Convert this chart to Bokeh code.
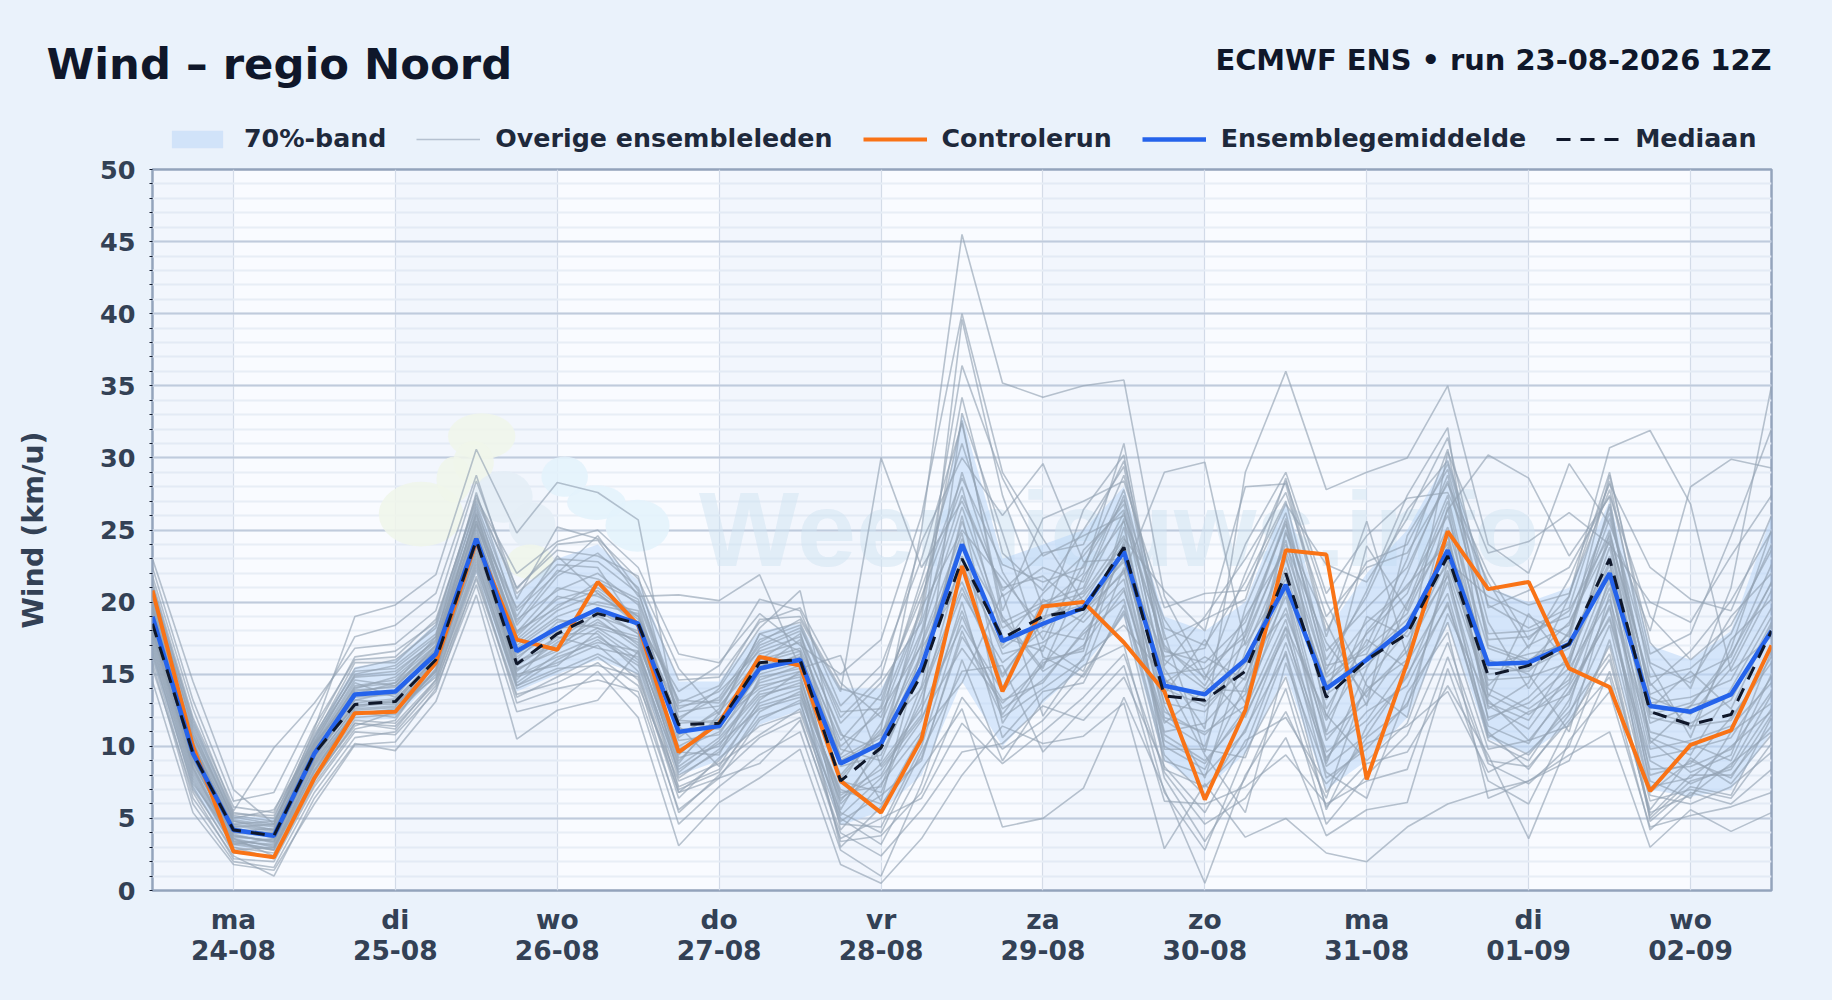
from bokeh.plotting import figure
from bokeh.embed import file_html
from bokeh.resources import INLINE
from bokeh.io import curdoc
from bokeh.layouts import column
from bokeh.core.properties import value
from bokeh.models import (Range1d, FixedTicker, SingleIntervalTicker, Legend, LegendItem,
                          BoxAnnotation, CustomJS, LinearAxis)

STEP_H = 6
title_text = "Wind – regio Noord"
subtitle_text = "ECMWF ENS • run 23-08-2026 12Z"
day_ticks = [12, 36, 60, 84, 108, 132, 156, 180, 204, 228]
day_names = ["ma", "di", "wo", "do", "vr", "za", "zo", "ma", "di", "wo"]
day_dates = ["24-08", "25-08", "26-08", "27-08", "28-08", "29-08", "30-08", "31-08", "01-09", "02-09"]

mean = [19.0,9.5,4.2,3.8,9.5,13.6,13.8,16.4,24.4,16.6,
        18.2,19.5,18.5,11.0,11.4,15.4,16.0,8.8,10.2,15.5,
        24.0,17.3,18.5,19.6,23.5,14.2,13.6,16.0,21.2,14.0,
        16.0,18.3,23.6,15.7,15.8,17.1,22.0,12.8,12.4,13.6,18.0]
control = [20.8,10.0,2.7,2.3,7.8,12.3,12.4,15.8,24.2,17.4,
           16.7,21.4,18.4,9.6,11.6,16.2,15.6,7.6,5.4,10.5,
           22.5,13.8,19.7,20.0,17.2,13.8,6.3,12.5,23.6,23.3,
           7.7,15.8,24.9,20.9,21.4,15.4,14.1,6.9,10.1,11.1,17.0]
median = [18.5,9.5,4.2,3.8,9.5,12.9,13.1,16.0,24.3,15.7,
          17.8,19.2,18.5,11.5,11.6,15.8,16.0,7.6,9.9,15.0,
          23.0,17.5,19.0,19.5,23.8,13.5,13.2,15.2,22.0,13.4,
          16.0,17.8,23.2,14.9,15.6,17.1,23.0,12.4,11.5,12.2,18.0]
p15 = [16.0,7.0,3.0,2.8,8.0,11.8,11.9,14.8,22.0,13.8,
       15.0,16.0,15.0,8.0,9.0,11.5,12.5,4.5,5.5,8.0,
       14.5,10.0,13.0,15.5,19.0,9.0,7.0,9.5,15.0,7.0,
       9.0,12.0,18.5,10.5,9.5,11.5,17.0,7.0,6.5,7.0,11.0]
p85 = [21.0,12.0,5.2,5.0,10.8,15.5,16.0,18.5,27.0,20.5,
       23.0,24.0,21.5,14.5,14.5,18.0,18.5,14.0,14.0,19.0,
       33.0,23.0,24.0,25.0,28.0,19.0,18.0,20.0,27.0,18.0,
       22.0,25.0,30.0,21.0,20.0,21.0,27.0,17.0,16.0,18.0,26.0]

members = [
 [18.5,9.2,4.4,3.6,9.1,13.0,13.3,16.0,24.1,15.9, 17.0,18.6,17.2,9.8,11.0,14.4,15.2,8.0,11.2,25.0, 45.5,35.2,34.2,35.0,35.4,20.4,15.0,12.0,18.3,12.2, 9.0,11.6,19.2,13.2,10.4,13.8,19.0,9.0,7.4,8.6,13.6],
 [23.0,14.5,7.0,4.6,11.2,19.0,19.8,21.9,30.6,24.8, 28.3,27.6,25.7,11.4,8.6,13.2,15.2,9.4,12.8,21.6, 31.0,22.1,17.4,22.6,27.1,17.8,9.6,19.6,26.2,15.3, 20.8,27.4,32.1,13.4,19.2,15.6,24.8,14.2,16.6,20.1,24.9],
 [21.8,12.6,5.5,9.9,13.0,16.8,17.1,19.4,28.4,20.9, 24.0,24.3,20.4,20.5,20.1,21.9,15.4,16.3,8.6,12.2, 33.1,24.8,16.2,14.8,19.4,11.6,13.9,17.2,24.3,13.2, 23.9,19.4,26.4,30.2,28.6,23.2,27.3,10.2,12.8,16.4,21.3],
 [16.2,6.4,2.4,1.0,6.4,10.2,9.7,13.1,20.5,10.5, 12.5,13.2,16.6,8.8,12.3,17.8,16.6,4.2,7.4,11.0, 14.4,20.6,12.1,16.2,18.4,14.8,9.4,5.4,15.8,8.2, 6.4,13.7,17.9,6.4,7.6,9.0,15.2,5.6,9.2,7.4,10.8],
 [14.5,5.4,1.8,1.4,6.0,10.1,10.3,14.0,21.2,12.4, 13.1,15.2,12.0,3.1,6.1,7.8,9.8,1.8,0.5,3.6, 8.0,11.4,10.2,10.7,13.0,2.9,7.4,3.7,5.0,2.6, 2.0,4.4,6.0,6.9,7.6,9.4,11.0,3.0,5.6,4.1,5.4],
 [17.6,8.2,3.4,3.2,8.6,12.0,12.2,15.0,23.0,14.2, 16.0,17.4,15.6,7.2,8.4,12.0,13.0,5.0,3.2,8.4, 12.6,4.4,5.0,7.1,13.4,7.0,0.5,8.0,12.4,6.4, 14.6,18.0,24.2,16.0,15.0,11.0,20.6,4.8,7.2,6.6,12.0],
 [20.0,10.8,5.0,5.6,10.2,15.0,15.6,17.8,26.0,17.8, 20.2,21.0,19.0,13.2,13.0,17.2,18.8,13.8,30.0,22.4, 27.0,21.0,21.8,19.4,22.0,29.0,29.7,17.0,21.6,11.0, 18.0,21.2,24.0,12.6,14.4,20.4,30.7,31.9,26.8,15.2,17.6],
 [19.4,10.2,4.8,4.4,9.8,14.2,14.6,17.0,25.4,19.6, 22.6,22.4,18.2,12.6,13.8,16.6,17.6,11.0,6.2,16.8, 21.4,15.0,18.6,26.4,30.2,15.4,11.2,29.0,36.0,27.8, 29.0,30.0,35.0,24.0,22.0,29.6,25.4,18.0,28.0,29.9,29.3],
 [20.6,11.4,5.2,4.8,10.4,15.4,16.0,18.2,26.6,18.4, 21.8,23.4,21.0,14.6,14.8,18.6,19.6,14.4,12.0,19.4, 36.4,28.6,23.2,24.6,26.0,18.8,14.6,22.0,28.4,20.0, 14.2,12.0,22.8,20.4,19.0,17.6,28.8,17.2,14.0,21.0,35.0],
 [15.4,6.8,2.2,2.0,7.2,11.0,10.8,13.8,21.8,13.6, 14.4,15.8,13.4,4.6,7.2,9.4,11.0,2.8,1.0,7.4, 16.0,9.0,13.2,15.6,17.0,6.8,2.8,9.6,14.8,5.8, 8.8,9.6,14.2,9.4,3.6,10.4,13.8,4.4,5.2,5.8,6.8],
 [17.0,7.6,3.0,2.6,8.0,11.8,11.6,14.6,22.6,14.0, 15.2,16.4,15.0,6.4,9.2,11.4,12.4,4.6,4.4,10.0, 19.0,12.6,14.6,17.8,20.2,9.4,6.6,11.2,16.4,5.6, 11.4,14.8,21.4,11.0,8.4,12.2,18.4,6.6,6.0,7.2,9.6],
 [18.0,8.8,3.8,3.4,9.0,12.6,12.8,15.6,24.0,15.2, 17.2,18.8,16.8,8.6,10.6,13.8,14.6,6.4,8.0,13.0, 23.2,16.4,17.2,19.2,23.0,12.4,10.8,13.6,19.6,10.8, 13.0,17.0,23.0,14.0,12.6,14.6,21.4,9.2,9.8,10.6,14.8],
 [19.2,9.8,4.6,4.2,9.6,13.8,14.2,16.6,25.0,17.0, 19.0,20.0,19.4,11.6,11.8,15.6,16.2,8.6,9.4,15.2, 25.6,18.2,19.8,20.6,24.6,14.0,12.8,15.4,22.4,14.4, 16.8,19.2,25.2,15.6,16.4,17.0,23.2,12.4,11.6,13.2,18.6],
 [20.4,10.4,4.0,4.0,10.0,14.4,13.4,16.8,26.4,18.8, 20.8,22.0,19.8,10.6,12.6,16.8,18.0,7.4,11.6,18.0, 29.0,20.4,22.4,21.4,27.8,16.6,15.8,18.6,25.4,16.6, 19.6,22.4,28.4,17.8,18.0,19.0,26.2,13.6,14.8,16.2,22.6],
 [16.6,7.0,2.8,3.0,7.8,11.4,12.4,15.2,23.4,14.8, 15.8,17.0,14.6,5.4,8.0,10.6,12.0,3.6,5.0,6.4, 11.6,8.8,11.0,13.4,16.4,8.2,4.6,6.4,10.6,3.8, 5.6,6.1,15.4,7.6,6.0,11.6,14.8,4.2,6.8,6.0,8.4],
 [21.0,11.8,5.4,5.0,11.0,16.2,16.6,18.6,27.2,22.0, 24.2,25.0,22.4,16.4,15.8,19.2,17.0,15.0,17.4,26.0, 40.0,29.0,24.4,20.0,24.4,20.8,18.0,28.0,28.2,17.6, 25.6,16.2,30.4,23.4,24.2,26.2,24.0,20.0,18.6,23.2,27.4],
 [18.8,9.0,3.6,3.0,8.8,12.4,12.0,15.4,23.8,15.4, 16.6,19.4,17.8,8.0,9.6,13.0,14.0,6.8,7.2,14.2, 26.0,14.0,20.2,18.6,21.6,10.0,8.4,14.2,20.4,8.8, 15.4,20.0,24.6,12.8,11.2,15.0,22.2,8.0,8.8,12.0,15.8],
 [17.4,8.0,3.2,3.6,9.2,13.2,13.0,16.2,24.6,16.4, 18.2,18.4,17.6,9.2,10.0,14.6,15.6,5.6,10.4,17.2, 24.8,11.6,15.8,16.8,25.2,12.8,7.8,16.6,23.2,12.6, 17.4,15.4,26.6,11.8,13.4,16.2,24.4,10.4,8.2,9.4,16.6],
 [22.4,13.2,6.2,6.8,12.4,17.6,18.4,20.6,28.8,20.2, 25.2,24.4,21.6,15.4,12.2,17.8,18.6,12.0,14.8,24.2, 30.0,26.0,29.6,22.8,23.0,16.2,16.8,24.0,29.0,20.6, 24.6,27.2,27.6,21.4,16.8,21.6,28.2,22.4,20.2,19.4,26.0],
 [15.8,6.0,2.0,1.6,6.8,10.6,11.0,14.2,22.2,13.0, 14.0,14.6,13.8,5.6,7.8,8.8,11.8,4.0,2.4,5.6, 9.6,10.2,12.8,11.8,14.8,8.6,5.4,10.4,12.0,7.4, 10.2,11.4,13.8,8.2,9.6,12.4,16.4,5.2,8.0,8.0,11.4],
 [19.8,10.0,4.4,4.6,10.6,14.8,15.0,17.4,25.8,18.0, 19.6,21.4,20.0,12.4,12.8,16.0,16.8,10.4,13.6,20.4, 28.0,17.6,16.6,23.6,26.4,13.6,17.4,13.0,24.8,18.6, 12.8,24.6,29.2,18.6,14.0,18.0,25.8,15.6,10.6,17.4,20.2],
 [18.2,8.6,3.4,2.8,8.4,12.2,12.6,14.8,22.8,14.6, 17.8,17.8,15.2,6.8,9.0,12.8,13.6,7.0,6.0,9.2, 17.6,13.2,14.4,18.0,21.0,10.8,9.0,12.2,17.8,9.6, 11.8,15.8,20.6,10.4,9.0,13.2,19.8,7.6,6.4,11.0,13.0],
 [20.8,11.2,4.8,4.2,10.2,13.6,14.4,17.6,27.6,19.0, 23.2,20.6,18.6,13.8,15.6,20.2,19.4,12.8,15.6,23.0, 32.4,19.4,25.8,27.0,28.4,19.6,20.6,20.8,26.8,22.6, 21.4,25.8,31.4,19.6,20.8,22.4,27.4,19.0,16.0,18.4,23.6],
 [16.8,7.4,3.6,2.4,7.6,11.6,11.4,14.4,21.6,13.4, 14.8,16.2,14.2,7.6,8.8,10.8,12.6,5.4,4.0,9.6, 15.2,15.6,9.6,12.6,15.6,6.2,6.0,7.2,9.4,6.0, 7.6,8.4,16.2,8.8,7.4,10.0,17.4,6.2,7.0,6.4,10.2],
 [19.6,9.6,3.8,3.4,9.4,13.4,13.6,16.4,24.8,16.0, 18.6,19.0,18.0,10.0,11.4,15.0,15.8,9.8,9.0,15.8, 22.6,16.8,18.8,20.4,24.0,14.6,13.0,16.0,22.0,13.6, 15.6,18.4,23.8,15.0,15.4,16.8,22.8,11.6,12.8,13.6,17.8],
 [21.4,12.0,5.8,5.4,11.4,16.0,16.2,18.8,27.0,21.0, 23.6,23.2,21.8,11.8,14.0,18.2,20.8,9.0,10.6,19.0, 34.2,23.4,20.8,25.0,29.4,15.6,19.0,23.0,27.6,19.0, 22.4,23.4,28.2,22.0,17.4,20.4,29.0,16.4,17.8,24.6,32.0],
 [18.4,9.4,4.2,4.0,9.8,13.2,13.8,16.6,25.2,16.8, 18.8,18.2,16.4,9.4,12.0,14.2,14.8,6.0,8.8,12.6, 18.4,13.8,17.0,15.2,22.4,11.0,11.6,14.8,21.0,10.4, 13.8,16.6,22.2,13.6,12.2,14.4,21.0,11.0,10.2,9.0,15.0],
 [20.2,10.6,4.6,4.8,10.0,14.0,14.8,17.2,26.2,17.4, 19.8,20.8,18.8,11.0,11.6,16.4,17.2,10.0,12.4,17.0, 23.8,19.0,15.4,21.8,25.6,17.0,14.2,19.0,23.6,15.0, 18.6,21.0,26.0,16.8,15.8,18.6,24.2,13.0,13.4,14.6,19.6],
 [17.2,7.8,3.0,2.2,7.4,11.2,11.8,15.8,23.2,14.4, 16.4,17.6,15.8,7.8,9.8,13.4,14.4,3.0,5.8,10.8, 20.0,10.6,13.8,14.4,19.8,9.0,8.0,11.0,18.2,7.8, 9.8,13.0,18.6,9.8,10.4,11.4,17.0,5.0,7.6,8.4,12.6],
 [19.0,9.4,4.0,3.8,9.4,12.8,13.2,16.2,24.4,15.6, 17.4,19.2,17.0,10.4,10.8,15.2,16.4,7.8,11.0,14.0, 21.0,14.8,19.0,19.8,22.8,13.0,12.4,15.8,19.2,11.8, 16.2,18.8,22.6,14.6,14.8,15.8,23.8,12.0,11.4,11.8,16.2],
 [19.3,9.9,4.3,3.9,9.7,13.9,14.1,16.9,25.6,17.2, 19.4,20.6,18.4,11.2,11.2,15.8,16.6,9.2,10.8,16.4, 39.6,27.4,19.6,22.0,31.0,16.0,14.0,13.8,25.0,14.8, 17.0,23.0,30.6,17.0,16.0,17.4,26.8,13.4,12.2,15.4,20.8],
 [17.8,8.4,3.2,2.8,8.2,12.4,12.4,15.2,23.6,15.0, 15.6,18.0,16.0,8.4,10.2,12.6,13.4,6.2,9.8,20.0, 32.6,18.8,15.2,17.0,20.8,11.8,10.0,17.8,25.6,12.0, 19.0,17.6,21.8,12.0,13.0,15.4,20.2,10.6,9.4,14.0,19.0],
 [18.6,9.1,3.9,3.3,8.9,12.7,13.1,15.9,24.2,15.3, 16.8,18.2,17.4,9.0,11.8,14.0,15.0,5.2,7.8,11.8, 19.4,12.2,16.0,16.6,25.8,8.4,7.2,10.0,17.2,9.2, 12.4,14.2,20.0,10.8,9.4,12.8,21.8,7.2,7.8,10.0,12.4],
 [20.9,11.0,5.1,4.6,10.8,15.2,15.4,17.6,26.8,19.4, 22.0,24.6,20.8,12.0,13.4,17.4,18.4,11.6,14.4,18.6, 27.4,20.8,23.4,24.0,29.8,17.4,18.8,20.2,28.6,18.0, 22.8,24.0,29.6,19.8,18.2,19.6,28.4,14.8,15.4,17.8,24.0],
 [16.4,7.2,2.6,2.4,7.8,11.6,11.2,14.6,22.4,14.2, 15.4,15.6,14.8,6.8,7.8,11.8,13.2,3.4,3.8,6.8, 13.4,9.8,11.8,15.0,19.2,7.8,3.4,7.8,14.0,4.6, 8.0,10.8,17.2,9.0,8.6,11.8,16.0,5.4,6.6,8.8,11.0],
 [19.5,10.1,4.5,4.1,9.9,14.1,14.4,16.7,25.6,17.6, 20.4,19.8,19.2,10.8,12.4,15.4,17.4,9.0,10.0,16.2, 24.4,17.0,20.6,23.2,26.8,15.0,15.4,17.6,24.0,17.2, 13.4,19.8,27.0,14.2,17.0,18.4,25.0,12.6,15.2,12.6,18.4],
 [18.1,8.9,3.7,3.5,9.3,12.9,12.9,15.7,24.3,16.2, 18.0,19.6,17.8,9.6,9.4,14.8,15.4,7.6,6.8,13.6, 20.6,15.8,18.0,17.4,23.6,12.0,11.0,12.8,20.8,9.0, 14.0,16.0,24.8,13.0,11.8,16.0,22.6,9.8,10.4,11.4,14.4],
 [21.2,11.6,5.3,5.2,10.6,15.8,15.8,18.4,27.4,20.6, 23.0,22.8,20.6,13.0,14.2,18.8,19.0,14.0,13.2,21.0, 28.6,22.6,21.4,22.4,28.8,18.2,17.0,21.4,27.0,16.0, 20.4,26.4,29.8,21.0,19.8,20.6,27.8,15.8,14.4,19.0,22.0],
 [17.9,8.5,3.3,2.9,8.7,12.3,12.5,15.3,23.9,15.8, 17.6,16.8,16.2,8.2,10.4,13.6,14.2,6.6,8.4,12.0, 16.8,13.0,15.6,19.0,22.2,10.4,8.8,12.6,18.8,8.6, 10.8,15.0,19.8,11.4,10.2,14.2,18.8,8.4,8.6,9.8,13.8],
 [19.7,10.3,4.1,4.3,10.1,14.6,14.2,17.0,25.4,17.9, 21.0,20.4,19.0,11.8,11.6,16.0,17.8,10.8,9.8,17.8, 26.6,18.6,20.0,21.0,27.4,14.4,16.2,14.6,23.0,14.2, 17.8,20.6,27.4,15.4,15.2,17.8,26.6,12.2,13.0,15.8,21.4],
 [18.3,9.3,3.5,3.1,8.3,12.5,12.7,16.0,24.5,14.9, 16.2,17.2,16.6,7.0,8.2,12.4,13.8,4.8,6.6,9.0, 18.0,12.0,14.0,16.0,24.2,9.8,9.8,9.2,16.6,6.8, 10.6,12.8,22.0,10.6,12.4,13.6,19.6,6.8,9.0,7.8,12.2],
 [20.1,10.7,4.9,4.5,10.3,14.9,15.2,17.3,26.1,18.6, 22.2,21.6,20.2,12.8,13.2,17.0,18.2,12.4,12.6,19.6, 25.0,21.6,18.2,20.8,26.2,16.8,14.8,18.0,25.8,15.6, 16.4,22.0,28.8,17.4,17.6,19.4,24.6,14.4,11.2,16.8,25.0],
]

hours = [i * STEP_H for i in range(len(mean))]

# watermark blobs (hours, km/u, width, height, colour)
logo_x = [48.8, 47.6, 39.8, 44.7, 52.0, 56.3, 61.1, 65.8, 71.9, 56.0]
logo_y = [31.5, 29.7, 26.1, 28.5, 27.3, 25.3, 28.7, 26.9, 25.3, 22.8]
logo_w = [10.0, 6.0, 12.5, 5.2, 8.7, 6.9, 6.9, 8.7, 9.5, 6.9]
logo_h = [3.2, 3.0, 4.5, 3.2, 3.6, 3.2, 2.8, 2.4, 3.6, 2.4]
logo_c = ["#f0f6ea", "#f0f6ea", "#f0f6ea", "#f0f6ea", "#e4edf6", "#e4edf6",
          "#e3f2fc", "#e3f2fc", "#e3f2fc", "#f0f6ea"]

BG = "#eaf2fb"
FONT = "DejaVu Sans"
HEAD_H = 155

# ---------- main chart ----------
chart = figure(width=1824, height=992 - HEAD_H, frame_width=1619, frame_height=721,
               x_range=Range1d(0, 240), y_range=Range1d(0, 50),
               output_backend="svg", toolbar_location=None, frame_align=False,
               min_border_left=152, min_border_right=53, min_border_top=14, min_border_bottom=102,
               background_fill_color="#f9fbff", border_fill_color=BG,
               outline_line_color="#93a3bb", outline_line_width=2.5)

band_edges = [0] + day_ticks + [240]
for a, b in list(zip(band_edges[:-1], band_edges[1:]))[::2]:
    chart.add_layout(BoxAnnotation(left=a, right=b, fill_color="#b8cdf0", fill_alpha=0.1,
                                   line_alpha=0, level="underlay"))

xa, ya = chart.xaxis[0], chart.yaxis[0]
xb = LinearAxis()
chart.add_layout(xb, "below")
for ax, labels, off in ((xa, day_names, 7), (xb, day_dates, -4)):
    ax.ticker = FixedTicker(ticks=day_ticks)
    ax.major_label_overrides = dict(zip(day_ticks, labels))
    ax.major_tick_line_color = None
    ax.minor_tick_line_color = None
    ax.axis_line_color = None
    ax.major_label_text_font = FONT
    ax.major_label_text_font_style = "bold"
    ax.major_label_text_font_size = "26.5px"
    ax.major_label_text_color = "#334155"
    ax.major_label_standoff = off

ya.ticker = SingleIntervalTicker(interval=5, num_minor_ticks=5)
ya.major_tick_line_color = None
ya.minor_tick_line_color = "#0f172a"
ya.minor_tick_out = 3
ya.minor_tick_in = 0
ya.axis_line_color = None
ya.major_label_text_font = FONT
ya.major_label_text_font_style = "bold"
ya.major_label_text_font_size = "25.5px"
ya.major_label_text_color = "#334155"
ya.major_label_standoff = 11
ya.axis_label = "Wind (km/u)"
ya.axis_label_text_font = FONT
ya.axis_label_text_font_style = "bold"
ya.axis_label_text_font_size = "28.5px"
ya.axis_label_text_color = "#334155"
ya.axis_label_standoff = 47

chart.xgrid.grid_line_color = "#d5dce8"
chart.xgrid.grid_line_width = 1.2
chart.xgrid.ticker = FixedTicker(ticks=day_ticks)
chart.ygrid.grid_line_color = "#c0cbdc"
chart.ygrid.grid_line_width = 2
chart.ygrid.minor_grid_line_color = "#e8eef6"
chart.ygrid.minor_grid_line_width = 2

chart.ellipse(logo_x, logo_y, width=logo_w, height=logo_h, fill_color=logo_c, fill_alpha=0.85, line_alpha=0)
chart.text([81.0], [25.1], text=["Weernieuws.info"], text_font=value("Liberation Sans"),
           text_font_style="bold", text_font_size="106px",
           text_color="#cfe3f1", text_alpha=0.5, text_baseline="alphabetic")

chart.varea(hours, p15, p85, fill_color="#bcd7f8", fill_alpha=0.55)
chart.multi_line([hours] * len(members), members, line_color="#94a3b4", line_alpha=0.65, line_width=1.6)
chart.line(hours, control, line_color="#f97316", line_width=4)
chart.line(hours, mean, line_color="#2563eb", line_width=4.5)
chart.line(hours, median, line_color="#0f172a", line_width=3, line_dash="14 10")

# ---------- header with title and legend ----------
head = figure(width=1824, height=HEAD_H, frame_width=1824, frame_height=HEAD_H,
              x_range=Range1d(0, 1824), y_range=Range1d(HEAD_H, 0),
              output_backend="svg", toolbar_location=None, frame_align=False,
              min_border_left=0, min_border_right=0, min_border_top=0, min_border_bottom=0,
              background_fill_color=BG, border_fill_color=BG, outline_line_color=None)
head.axis.visible = False
head.grid.visible = False
head.text([46], [63], text=[title_text], text_font=value(FONT), text_font_style="bold",
          text_font_size="43.3px", text_color="#0f172a", text_baseline="alphabetic")
head.text([1771], [59], text=[subtitle_text], text_font=value(FONT), text_font_style="bold",
          text_font_size="28.9px", text_color="#0f172a", text_align="right", text_baseline="alphabetic")
empty = [float("nan")]
band_r = head.varea(empty, empty, empty, fill_color="#bcd7f8", fill_alpha=0.55)
mem_r = head.line(empty, empty, line_color="#94a3b4", line_alpha=0.62, line_width=1.5)
ctrl_r = head.line(empty, empty, line_color="#f97316", line_width=4)
mean_r = head.line(empty, empty, line_color="#2563eb", line_width=4.5)
med_r = head.line(empty, empty, line_color="#0f172a", line_width=3, line_dash="14 10")
legend = Legend(items=[LegendItem(label="70%-band", renderers=[band_r]),
                       LegendItem(label="Overige ensembleleden", renderers=[mem_r]),
                       LegendItem(label="Controlerun", renderers=[ctrl_r]),
                       LegendItem(label="Ensemblegemiddelde", renderers=[mean_r]),
                       LegendItem(label="Mediaan", renderers=[med_r])],
                orientation="horizontal", location=(165, 2), background_fill_alpha=0,
                border_line_alpha=0, padding=0, margin=0, spacing=30,
                glyph_width=64, glyph_height=22, label_standoff=15,
                label_text_font=FONT, label_text_font_style="bold",
                label_text_font_size="25.3px", label_text_color="#1e293b")
head.add_layout(legend, "center")

p = column(head, chart, spacing=0)

doc = curdoc()
doc.add_root(p)
doc.js_on_event("document_ready", CustomJS(code="document.documentElement.style.background='#eaf2fb';document.body.style.background='#eaf2fb';"))
open("out.html", "w").write(file_html(p, INLINE))
